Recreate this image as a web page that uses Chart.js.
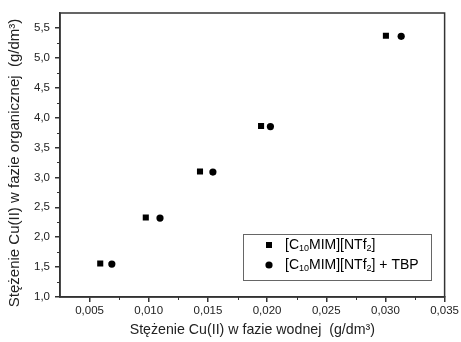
<!DOCTYPE html>
<html>
<head>
<meta charset="utf-8">
<script src="https://cdn.jsdelivr.net/npm/chart.js@4"></script>
<style>
  body { margin: 0; background: #fff; }
  #wrap { width: 461px; height: 342px; position: relative; }
</style>
</head>
<body>
<div id="wrap"><canvas id="myChart"></canvas></div>
<script>
// tick values for both axes
const xTicks = [0.005, 0.010, 0.015, 0.020, 0.025, 0.030, 0.035];
const yTicks = [1.0, 1.5, 2.0, 2.5, 3.0, 3.5, 4.0, 4.5, 5.0, 5.5];

// series
const ilX = [0.0059, 0.00975, 0.01433, 0.01949, 0.03004];
const ilY = [1.56, 2.33, 3.10, 3.86, 5.37];
const tbpX = [0.00688, 0.01095, 0.01542, 0.02028, 0.03133];
const tbpY = [1.55, 2.32, 3.09, 3.85, 5.36];

// legend labels, _{..} = subscript
const seriesLabels = ['[C_{10}MIM][NTf_{2}]', '[C_{10}MIM][NTf_{2}] + TBP'];

const xTitle = 'Stężenie Cu(II) w fazie wodnej  (g/dm³)';
const yTitle = 'Stężenie Cu(II) w fazie organicznej  (g/dm³)';

const FONT = 'Arial, "Liberation Sans", sans-serif';

function toPoints(xs, ys) {
  return xs.map((x, i) => ({ x: x, y: ys[i] }));
}

function comma(v, d) {
  return v.toFixed(d).replace('.', ',');
}

// frame, minor ticks, y title
const framePlugin = {
  id: 'frame',
  afterDraw(chart) {
    const ctx = chart.ctx;
    const a = chart.chartArea;
    const xs = chart.scales.x, ys = chart.scales.y;
    ctx.save();
    ctx.strokeStyle = '#333';
    ctx.lineWidth = 1.5;
    ctx.strokeRect(a.left, a.top, a.right - a.left, a.bottom - a.top);
    ctx.lineWidth = 1;
    ctx.beginPath();
    for (let i = 0; i < xTicks.length - 1; i++) {
      const px = Math.round(xs.getPixelForValue((xTicks[i] + xTicks[i + 1]) / 2)) + 0.5;
      ctx.moveTo(px, a.bottom);
      ctx.lineTo(px, a.bottom + 3);
    }
    for (let i = 0; i < yTicks.length - 1; i++) {
      const py = Math.round(ys.getPixelForValue((yTicks[i] + yTicks[i + 1]) / 2)) + 0.5;
      ctx.moveTo(a.left, py);
      ctx.lineTo(a.left - 3, py);
    }
    ctx.stroke();

    // y axis title
    ctx.translate(15, 163);
    ctx.rotate(-Math.PI / 2);
    ctx.fillStyle = '#222';
    ctx.font = '15px ' + FONT;
    ctx.textAlign = 'center';
    ctx.textBaseline = 'middle';
    ctx.fillText(yTitle, 0, 0);
    ctx.restore();
  }
};

// legend box with subscripts
function drawRich(ctx, text, x, y) {
  const parts = text.split(/(_\{[^}]*\})/).filter(p => p.length);
  parts.forEach(p => {
    if (p.startsWith('_{')) {
      const s = p.slice(2, -1);
      ctx.font = '9px ' + FONT;
      ctx.fillText(s, x, y + 4);
      x += ctx.measureText(s).width;
    } else {
      ctx.font = '14px ' + FONT;
      ctx.fillText(p, x, y);
      x += ctx.measureText(p).width;
    }
  });
}

const legendPlugin = {
  id: 'boxLegend',
  afterDraw(chart) {
    const ctx = chart.ctx;
    ctx.save();
    ctx.strokeStyle = '#666';
    ctx.lineWidth = 1;
    ctx.strokeRect(243.5, 234.5, 188, 46);
    ctx.fillStyle = '#000';
    ctx.textBaseline = 'middle';
    const rows = [245, 265];
    // square
    ctx.fillRect(266, rows[0] - 3, 6, 6);
    // circle
    ctx.beginPath();
    ctx.arc(269, rows[1], 3.6, 0, Math.PI * 2);
    ctx.fill();
    drawRich(ctx, seriesLabels[0], 285, rows[0]);
    drawRich(ctx, seriesLabels[1], 285, rows[1]);
    ctx.restore();
  }
};

const ctx = document.getElementById('myChart').getContext('2d');
const myChart = new Chart(ctx, {
  type: 'scatter',
  data: {
    datasets: [{
      label: seriesLabels[0],
      data: toPoints(ilX, ilY),
      pointStyle: 'rect',
      pointRadius: 4.3,
      pointHoverRadius: 4.3,
      backgroundColor: '#000',
      borderColor: '#000',
      borderWidth: 0
    }, {
      label: seriesLabels[1],
      data: toPoints(tbpX, tbpY),
      pointStyle: 'circle',
      pointRadius: 3.6,
      pointHoverRadius: 3.6,
      backgroundColor: '#000',
      borderColor: '#000',
      borderWidth: 0
    }]
  },
  options: {
    responsive: true,
    maintainAspectRatio: false,
    animation: false,
    layout: { padding: { top: 13, right: 15, left: 0, bottom: 0 } },
    plugins: {
      legend: { display: false },
      tooltip: { enabled: false }
    },
    scales: {
      x: {
        type: 'linear',
        min: 0.0025,
        max: 0.035,
        afterBuildTicks: s => { s.ticks = xTicks.map(v => ({ value: v })); },
        afterFit: s => { s.height = 45; },
        ticks: {
          callback: v => comma(v, 3),
          font: { family: FONT, size: 11.5 },
          color: '#222',
          padding: 2,
          maxRotation: 0
        },
        grid: { drawOnChartArea: false, drawTicks: true, tickLength: 5, color: '#333', lineWidth: 1.5 },
        border: { color: '#333', width: 1.5 },
        title: {
          display: true,
          text: xTitle,
          font: { family: FONT, size: 14.2 },
          color: '#222',
          padding: { top: 0, bottom: 3 }
        }
      },
      y: {
        type: 'linear',
        min: 1.0,
        max: 5.75,
        afterBuildTicks: s => { s.ticks = yTicks.map(v => ({ value: v })); },
        afterFit: s => { s.width = 60; },
        ticks: {
          callback: v => comma(v, 1),
          font: { family: FONT, size: 11.5 },
          color: '#222',
          padding: 5
        },
        grid: { drawOnChartArea: false, drawTicks: true, tickLength: 5, color: '#333', lineWidth: 1.5 },
        border: { color: '#333', width: 1.5 },
        title: { display: false }
      }
    }
  },
  plugins: [framePlugin, legendPlugin]
});
</script>
</body>
</html>
